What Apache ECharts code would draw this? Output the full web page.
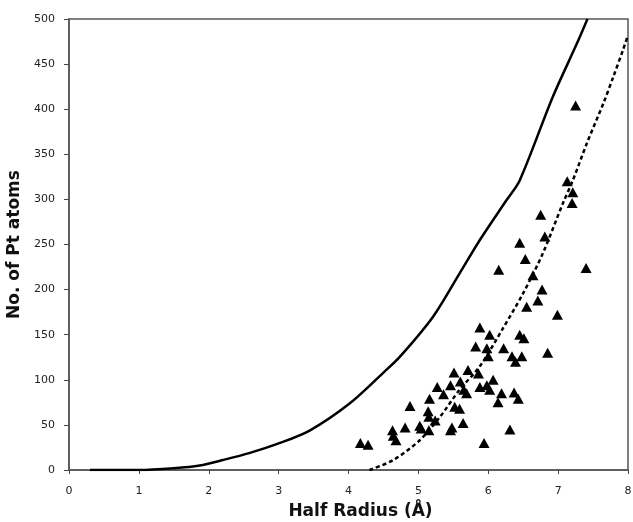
<!DOCTYPE html>
<html lang="en">

<head>
  <meta charset="UTF-8">
  <title>Pt atoms vs half radius</title>
  <script src="https://cdn.jsdelivr.net/npm/echarts@6/dist/echarts.min.js"></script>
  <style>
    body { margin: 0; background: #fff; }
  </style>
</head>

<body>
  <div id="chart" style="width: 633px; height: 522px;"></div>

  <script>
    // solid curve [half radius, atoms]
    var solidCurve = [
      [0.3, 0], [1, 0], [1.5, 2], [1.87, 5], [2.2, 11], [2.59, 19], [3.02, 30],
      [3.45, 44], [4.02, 74], [4.5, 108], [4.74, 126], [5.21, 170],
      [5.59, 218], [5.88, 255], [6.26, 299], [6.45, 321], [6.92, 413],
      [7.27, 473], [7.42, 500]
    ];

    // dashed curve
    var dashedCurve = [
      [4.3, 0], [4.64, 11], [5.02, 33], [5.31, 59], [5.59, 89], [5.88, 115],
      [6.21, 157], [6.5, 196], [6.78, 240], [7.07, 296], [7.21, 321],
      [7.41, 362], [7.65, 407], [7.79, 436], [7.93, 466], [7.99, 480]
    ];

    // measured clusters (triangles)
    var measured = [
      [6.45, 252], [6.81, 259], [6.53, 234], [6.15, 222], [7.4, 224],
      [6.64, 216], [6.77, 200], [6.71, 188], [6.55, 181], [6.99, 172],
      [5.88, 158], [6.02, 150], [6.45, 150], [6.51, 146], [5.82, 137],
      [5.98, 135], [6.22, 135], [6.0, 126], [6.34, 126], [6.48, 126],
      [6.39, 120], [6.85, 130], [5.51, 108], [5.71, 111], [5.86, 107],
      [6.07, 100], [5.46, 94], [5.27, 92], [5.88, 92], [5.98, 94],
      [6.02, 89], [5.65, 89], [5.36, 84], [5.69, 85], [6.19, 85],
      [6.37, 86], [6.43, 79], [6.14, 75], [5.16, 79], [4.88, 71],
      [5.52, 70], [5.59, 68], [5.14, 65], [5.15, 59], [5.24, 55],
      [5.64, 52], [5.02, 49], [4.81, 47], [4.63, 44], [5.15, 44],
      [5.46, 44], [6.31, 45], [4.64, 38], [4.68, 33], [4.17, 30],
      [4.28, 28], [5.94, 30], [7.25, 404], [7.13, 320], [7.21, 308],
      [7.2, 296], [6.75, 283], [5.04, 46], [5.48, 47], [5.6, 98]
    ];

    var myChart = echarts.init(document.getElementById('chart'));

    var labelFont = { fontFamily: 'DejaVu Sans, sans-serif', fontSize: 11, color: '#222' };
    var titleFont = { fontFamily: 'DejaVu Sans, sans-serif', fontSize: 17, fontWeight: 'bold', color: '#111' };

    myChart.setOption({
      animation: false,
      grid: {
        left: 69, right: 5, top: 19, bottom: 52,
        outerBoundsMode: 'none',
        show: true, borderColor: '#555', borderWidth: 1.5, backgroundColor: '#fff'
      },
      xAxis: {
        type: 'value', min: 0, max: 8, interval: 1,
        name: 'Half Radius (Å)', nameLocation: 'middle', nameGap: 33,
        nameTextStyle: Object.assign({ padding: [0, 0, 0, 24] }, titleFont),
        axisLine: { lineStyle: { color: '#555', width: 1.5 } },
        axisTick: { length: 4, lineStyle: { color: '#444' } },
        axisLabel: Object.assign({ margin: 16 }, labelFont),
        splitLine: { show: false }
      },
      yAxis: {
        type: 'value', min: 0, max: 500, interval: 50,
        name: 'No. of Pt atoms', nameLocation: 'middle', nameGap: 42,
        nameTextStyle: titleFont,
        axisLine: { show: true, lineStyle: { color: '#555', width: 1.5 } },
        axisTick: { show: true, length: 5, lineStyle: { color: '#444' } },
        axisLabel: Object.assign({ margin: 14 }, labelFont),
        splitLine: { show: false }
      },
      series: [
        {
          type: 'line', data: solidCurve, showSymbol: false, smooth: 0.3,
          lineStyle: { color: '#000', width: 2.5 }
        },
        {
          type: 'line', data: dashedCurve, showSymbol: false, smooth: 0.3,
          lineStyle: { color: '#000', width: 2.5, type: [4, 3] }
        },
        {
          type: 'scatter', data: measured, symbol: 'triangle', symbolSize: [11, 10],
          itemStyle: { color: '#000', opacity: 1 }
        }
      ]
    });
  </script>
</body>

</html>
